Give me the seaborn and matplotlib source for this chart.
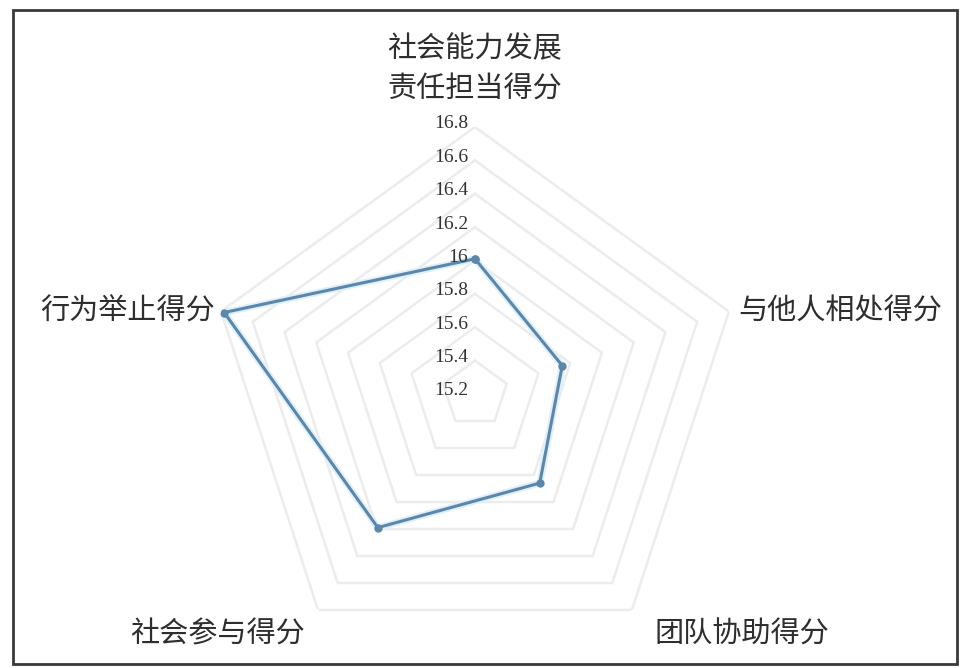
import numpy as np
import seaborn as sns
import matplotlib.pyplot as plt
from matplotlib.patches import Rectangle

# data
categories = ["社会能力发展\n责任担当得分", "与他人相处得分", "团队协助得分", "社会参与得分", "行为举止得分"]
scores = [16.01, 15.75, 15.86, 16.19, 16.78]
ring_ticks = [15.2, 15.4, 15.6, 15.8, 16.0, 16.2, 16.4, 16.6, 16.8]
tick_labels = ["15.2", "15.4", "15.6", "15.8", "16", "16.2", "16.4", "16.6", "16.8"]

sns.set_theme(style="white")
plt.rcParams['font.family'] = ['Noto Sans CJK SC', 'DejaVu Sans']

fig = plt.figure(figsize=(9.61, 6.68), dpi=100)
ax = fig.add_axes([0.2164, 0.0105, 0.5557, 0.7994], projection="polar")
ax.set_theta_zero_location("N")
ax.set_theta_direction(-1)
ax.set_ylim(ring_ticks[0], ring_ticks[-1])
ax.grid(False)
ax.spines["polar"].set_visible(False)
ax.set_xticks([])
ax.set_yticks([])
ax.patch.set_alpha(0)

n = len(categories)
theta = [2 * np.pi * i / n for i in range(n)] + [0]

# pentagon grid rings
for v in ring_ticks[1:]:
    ax.plot(theta, [v] * (n + 1), color="#ececec", lw=1.8, zorder=1)

# data polygon with a soft glow like the original
vals = scores + scores[:1]
ax.plot(theta, vals, color="#dff0fa", lw=5, zorder=2, solid_joinstyle="round")
sns.lineplot(x=theta, y=vals, sort=False, estimator=None, ax=ax, color="#5b87ab",
             lw=2.2, marker="o", markersize=6, markeredgewidth=0, zorder=3)

# radial tick labels
for v, lab in zip(ring_ticks, tick_labels):
    ax.annotate(lab, xy=(0, v), xytext=(-7, 3), textcoords="offset pixels",
                ha="right", va="center", fontsize=14, color="#333333",
                family=["Liberation Serif", "DejaVu Serif"], zorder=4)

# category labels
offsets = [(0, 22), (9, 0), (23, -25), (-13, -25), (-6, 0)]
aligns = [("center", "bottom"), ("left", "center"), ("left", "center"),
          ("right", "center"), ("right", "center")]
for t, lab, off, (ha, va) in zip(theta[:-1], categories, offsets, aligns):
    ax.annotate(lab, xy=(t, ring_ticks[-1]), xytext=off, textcoords="offset pixels",
                ha=ha, va=va, fontsize=21, color="#2e2e2e", linespacing=1.45,
                annotation_clip=False)

# chart frame
fig.patches.append(Rectangle((13 / 961, 1 - 664 / 668), 944 / 961, 654 / 668,
                             transform=fig.transFigure, fill=False,
                             edgecolor="#3a3a3a", lw=2))

fig.savefig("out.png", dpi=100)
